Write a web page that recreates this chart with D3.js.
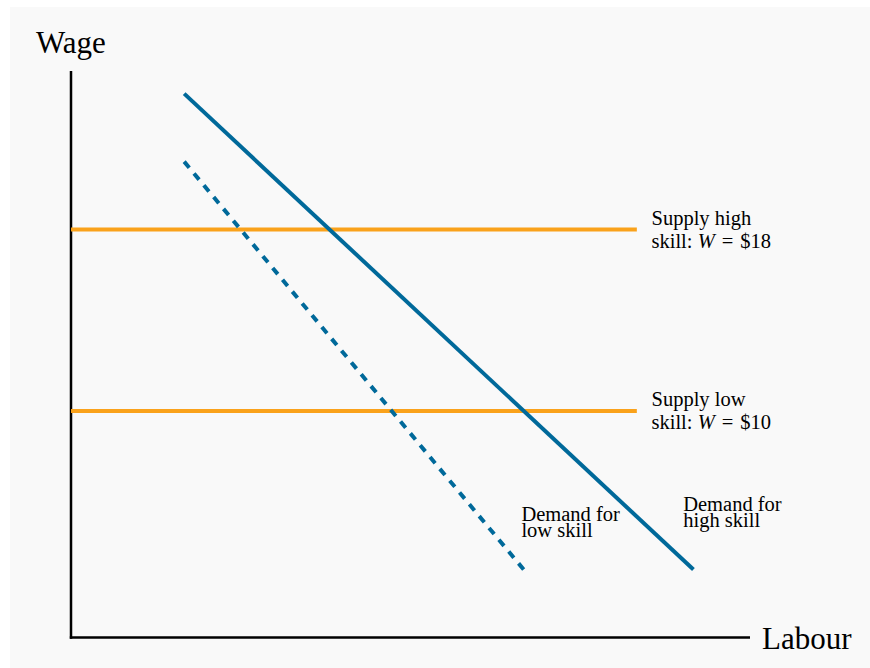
<!DOCTYPE html>
<html><head><meta charset="utf-8">
<script src="https://cdn.jsdelivr.net/npm/d3@7"></script>
<style>html,body{margin:0;padding:0;background:#fff;}svg{display:block;font-family:"Liberation Serif","Times New Roman",serif;}</style>
</head><body>
<svg id="chart" width="870" height="668"></svg>
<script>
// Data (axis units: labour 0-30, wage 0-25)
const xDomain = [0, 30];
const yDomain = [0, 25];
const demandHigh = [[5, 24], [27.5, 3]];
const demandLow = [[5, 21], [20, 3]];
const supplyHighWage = 18;
const supplyLowWage = 10;
const supplyExtent = [0, 25];
const supplyLabels = [
  {wage: 18, lines: ["Supply high", "skill: "], val: "$18"},
  {wage: 10, lines: ["Supply low", "skill: "], val: "$10"}
];
const demandLabels = [
  {lines: ["Demand for", "low skill"], pos: [19.9, 5.15]},
  {lines: ["Demand for", "high skill"], pos: [27.05, 5.6]}
];

const svg = d3.select("#chart");
svg.append("rect").attr("x", 10).attr("y", 7).attr("width", 860).attr("height", 661).attr("fill", "#f9f9f9");

const x = d3.scaleLinear().domain(xDomain).range([71, 750]);
const y = d3.scaleLinear().domain(yDomain).range([637.5, 71]);

const blue = "#00699a", orange = "#faa21b";

// Axes
svg.append("line").attr("x1", x(0)).attr("x2", x(0)).attr("y1", y(0) + 1.2).attr("y2", y(25))
  .attr("stroke", "#000").attr("stroke-width", 2.5);
svg.append("line").attr("x1", x(0) - 1.2).attr("x2", x(30)).attr("y1", y(0)).attr("y2", y(0))
  .attr("stroke", "#000").attr("stroke-width", 2.5);

svg.append("text").attr("x", 36).attr("y", 53).attr("font-size", 31).attr("fill", "#000").text("Wage");
svg.append("text").attr("x", 762).attr("y", 649).attr("font-size", 31).attr("fill", "#000").text("Labour");

const line = d3.line().x(d => x(d[0])).y(d => y(d[1]));

// Supply lines
[supplyHighWage, supplyLowWage].forEach(w => {
  svg.append("path").datum(supplyExtent.map(v => [v, w])).attr("d", line)
    .attr("stroke", orange).attr("stroke-width", 4).attr("fill", "none");
});

// Demand lines
const lowPath = svg.append("path").datum(demandLow).attr("d", line)
  .attr("stroke", blue).attr("stroke-width", 4).attr("fill", "none");
const len = lowPath.node().getTotalLength();
const dash = 8, n = Math.round((len - dash) / 15.5);
const gap = (len - dash) / n - dash;
lowPath.attr("stroke-dasharray", dash + "," + gap);
svg.append("path").datum(demandHigh).attr("d", line)
  .attr("stroke", blue).attr("stroke-width", 4).attr("fill", "none");

// Supply labels
supplyLabels.forEach(s => {
  const t = svg.append("text").attr("x", 651.5).attr("y", y(s.wage) - 4.5).attr("font-size", 20.5).attr("fill", "#000");
  t.append("tspan").attr("x", 651.5).text(s.lines[0]);
  t.append("tspan").attr("x", 651.5).attr("dy", 22.6).text(s.lines[1]);
  t.append("tspan").attr("font-style", "italic").text("W");
  t.append("tspan").attr("dx", 7).text("=");
  t.append("tspan").attr("dx", 7).text(s.val);
});

// Demand labels
demandLabels.forEach(d => {
  const t = svg.append("text").attr("x", x(d.pos[0])).attr("y", y(d.pos[1])).attr("font-size", 20.5).attr("fill", "#000");
  t.append("tspan").attr("x", x(d.pos[0])).text(d.lines[0]);
  t.append("tspan").attr("x", x(d.pos[0])).attr("dy", 16).text(d.lines[1]);
});
</script>
</body></html>
